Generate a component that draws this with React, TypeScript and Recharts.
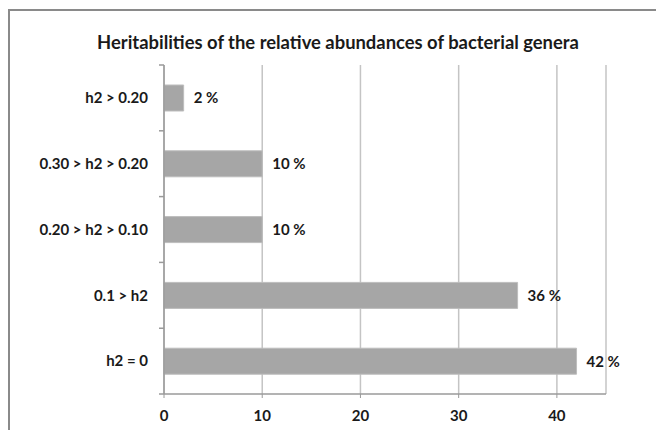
import React from 'react';
import { BarChart, Bar, XAxis, YAxis, CartesianGrid, LabelList } from 'recharts';

const categories = ['h2 > 0.20', '0.30 > h2 > 0.20', '0.20 > h2 > 0.10', '0.1 > h2', 'h2 = 0'];
const percentages = [2, 10, 10, 36, 42];
const xTicks = [0, 10, 20, 30, 40];
const title = 'Heritabilities of the relative abundances of bacterial genera';

const data = categories.map((c, i) => ({ name: c, value: percentages[i] }));

const FONT = 'Lato, "Open Sans", sans-serif';
const WIDTH = 656;
const HEIGHT = 430;
const MARGIN = { top: 65, right: 50, bottom: 6, left: 10 };
const X_AXIS_H = 30;
const Y_AXIS_W = 154;
const TICK_MARGIN = 16;
const TICK_LEN = 5;
const AXIS_GRAY = '#9a9a9a';
const PLOT_H = HEIGHT - MARGIN.top - MARGIN.bottom - X_AXIS_H;
const PLOT_LEFT = MARGIN.left + Y_AXIS_W;

function CategoryTick(props: any) {
  const { y, payload, index } = props;
  const half = PLOT_H / categories.length / 2;
  const isLast = index === categories.length - 1;
  return (
    <g>
      <path
        d={`M${PLOT_LEFT - TICK_LEN},${y - half}H${PLOT_LEFT}` + (isLast ? `M${PLOT_LEFT - TICK_LEN},${y + half}H${PLOT_LEFT}` : '')}
        stroke={AXIS_GRAY}
        strokeWidth={1.5}
        fill="none"
      />
      <text
        x={PLOT_LEFT - TICK_MARGIN}
        y={y}
        dy="0.355em"
        textAnchor="end"
        fill="#1a1a1a"
        fontFamily={FONT}
        fontWeight={700}
        fontSize={15}
      >
        {payload.value}
      </text>
    </g>
  );
}

export default function App() {
  return (
    <div style={{ position: 'absolute', left: 0, top: 0, width: WIDTH, height: HEIGHT, overflow: 'hidden', background: '#fff' }}>
      <div
        style={{
          position: 'absolute',
          left: 8,
          top: 9,
          width: 800,
          height: 600,
          borderLeft: '2px solid #8a8a8a',
          borderTop: '2px solid #8a8a8a',
        }}
      />
      <div
        style={{
          position: 'absolute',
          left: 0,
          width: 676,
          top: 31,
          textAlign: 'center',
          fontFamily: FONT,
          fontWeight: 700,
          fontSize: 18.4,
          color: '#1a1a1a',
          whiteSpace: 'nowrap',
        }}
      >
        {title}
      </div>
      <div style={{ position: 'absolute', left: 0, top: 0 }}>
        <BarChart width={WIDTH} height={HEIGHT} data={data} layout="vertical" margin={MARGIN}>
          <CartesianGrid horizontal={false} vertical={true} stroke="#c4c4c4" strokeWidth={1.5} />
          <XAxis
            type="number"
            domain={[0, 45]}
            ticks={xTicks}
            interval={0}
            height={X_AXIS_H}
            axisLine={{ stroke: AXIS_GRAY, strokeWidth: 1.5 }}
            tickLine={{ stroke: AXIS_GRAY }}
            tickSize={4}
            tickMargin={12}
            tick={{ fill: '#1a1a1a', fontFamily: FONT, fontWeight: 700, fontSize: 15 }}
          />
          <YAxis
            type="category"
            dataKey="name"
            width={Y_AXIS_W}
            axisLine={{ stroke: AXIS_GRAY, strokeWidth: 1.5 }}
            tickLine={false}
            tickSize={0}
            tickMargin={TICK_MARGIN}
            interval={0}
            tick={<CategoryTick />}
          />
          <Bar dataKey="value" fill="#a6a6a6" stroke="#bdbdbd" strokeWidth={1} barSize={26} isAnimationActive={false}>
            <LabelList
              dataKey="value"
              position="right"
              offset={10}
              formatter={(v: number) => `${v} %`}
              style={{ fill: '#1a1a1a', fontFamily: FONT, fontWeight: 700, fontSize: 15 }}
            />
          </Bar>
        </BarChart>
      </div>
    </div>
  );
}
